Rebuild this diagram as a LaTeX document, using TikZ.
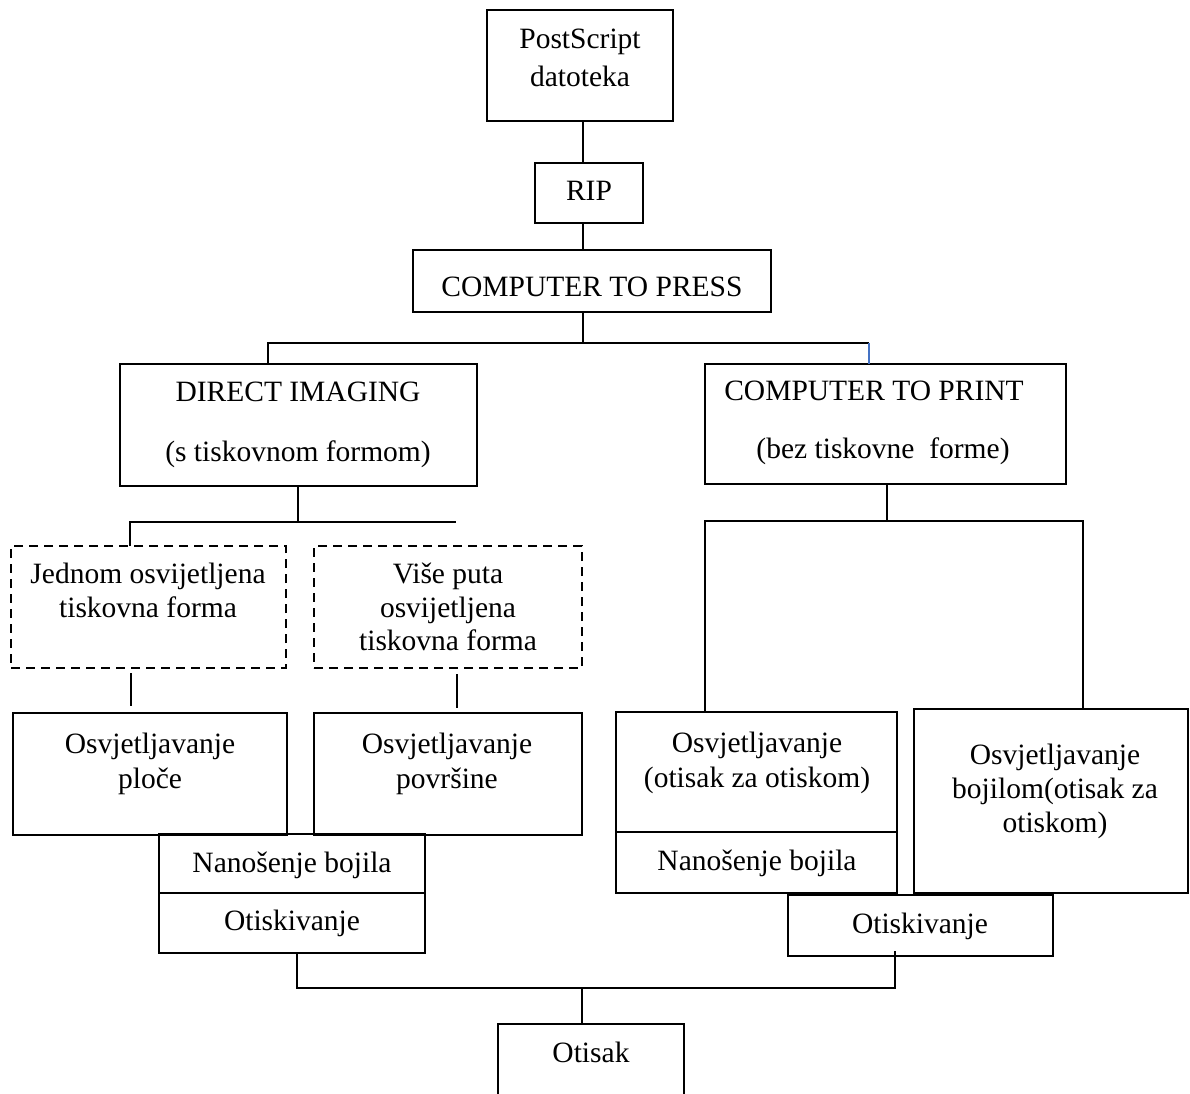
\documentclass[tikz,border=0pt]{standalone}
\usepackage{fontspec}
\setmainfont{Liberation Serif}
\definecolor{wordblue}{RGB}{68,114,196}
\newcommand\mybox[6]{%
  \pgfmathsetmacro\bxw{#5-#3}\pgfmathsetmacro\bxh{#6-#4}%
  \node[#1, minimum width=\bxw pt, minimum height=\bxh pt] (#2) at ({(#3+#5)/2},{(#4+#6)/2}) {};}
\begin{document}
\begin{tikzpicture}[x=1pt,y=-1pt, line width=2pt,
  box/.style={draw, rectangle, inner sep=0pt, outer sep=0pt, line width=2pt},
  dbox/.style={box, dash pattern=on 9pt off 6pt},
  txt/.style={anchor=base, inner sep=0pt, font=\fontsize{29.5}{34.5}\selectfont},
  wire/.style={draw, line width=2pt},
  bluewire/.style={draw=wordblue, line width=1.5pt}]
\useasboundingbox (0,0) rectangle (1190,1093);
\clip (0,0) rectangle (1190,1093);
% boxes
\mybox{box}{ps}{487}{10}{673}{121}
\mybox{box}{rip}{535}{163}{643}{223}
\mybox{box}{ctp}{413}{250}{771}{312}
\mybox{box}{di}{120}{364}{477}{486}
\mybox{box}{ctpr}{705}{364}{1066}{484}
\mybox{dbox}{d1}{11}{546}{286}{668}
\mybox{dbox}{d2}{314}{546}{582}{668}
\mybox{box}{op}{13}{713}{287}{835}
\mybox{box}{opv}{314}{713}{582}{835}
\mybox{box}{nb1}{159}{834}{425}{893}
\mybox{box}{ot1}{159}{893}{425}{953}
\mybox{box}{oo}{616}{712}{897}{832}
\mybox{box}{nb2}{616}{832}{897}{893}
\mybox{box}{ob}{914}{709}{1188}{893}
\mybox{box}{ot2}{788}{895}{1053}{956}
\mybox{box}{otk}{498}{1024}{684}{1110}
% texts
\node[txt] (tps1) at (580,48) {PostScript};
\node[txt] (tps2) at (580,86) {datoteka};
\node[txt] (trip) at (589,200) {RIP};
\node[txt] (tctp) at (592,296) {COMPUTER TO PRESS};
\node[txt] (tdi1) at (298,401) {DIRECT IMAGING};
\node[txt] (tdi2) at (298,461) {(s tiskovnom formom)};
\node[txt] (tcp1) at (874,400) {COMPUTER TO PRINT};
\node[txt] (tcp2) at (883,458) {(bez tiskovne\ \ forme)};
\node[txt] (td11) at (148,583) {Jednom osvijetljena};
\node[txt] (td12) at (148,617) {tiskovna forma};
\node[txt] (td21) at (448,583) {Više puta};
\node[txt] (td22) at (448,617) {osvijetljena};
\node[txt] (td23) at (448,650) {tiskovna forma};
\node[txt] (top1) at (150,753) {Osvjetljavanje};
\node[txt] (top2) at (150,788) {ploče};
\node[txt] (tov1) at (447,753) {Osvjetljavanje};
\node[txt] (tov2) at (447,788) {površine};
\node[txt] (tnb1) at (292,872) {Nanošenje bojila};
\node[txt] (tot1) at (292,930) {Otiskivanje};
\node[txt] (too1) at (757,752) {Osvjetljavanje};
\node[txt] (too2) at (757,787) {(otisak za otiskom)};
\node[txt] (tnb2) at (757,870) {Nanošenje bojila};
\node[txt] (tob1) at (1055,764) {Osvjetljavanje};
\node[txt] (tob2) at (1055,798) {bojilom(otisak za};
\node[txt] (tob3) at (1055,832) {otiskom)};
\node[txt] (tot2) at (920,933) {Otiskivanje};
\node[txt] (totk) at (591,1062) {Otisak};
% connectors
\coordinate (sp) at (583,0);
\coordinate (b1l) at (268,343);
\coordinate (b1r) at (869,343);
\draw[wire] (ps.south -| sp) -- (rip.north -| sp);
\draw[wire] (rip.south -| sp) -- (ctp.north -| sp);
\draw[wire] (ctp.south -| sp) -- (sp |- b1l);
\draw[wire] (di.north -| b1l) -- (b1l) -- (b1r);
\draw[bluewire] (b1r) -- (ctpr.north -| b1r);
\coordinate (b2m) at (298,522);
\coordinate (b2l) at (130,522);
\coordinate (b2r) at (456,522);
\draw[wire] (di.south -| b2m) -- (b2m);
\draw[wire] (d1.north -| b2l) -- (b2l) -- (b2r);
\coordinate (s1a) at (131,673);
\coordinate (s1b) at (131,706);
\coordinate (s2a) at (457,674);
\coordinate (s2b) at (457,708);
\draw[wire] (s1a) -- (s1b);
\draw[wire] (s2a) -- (s2b);
\coordinate (b3m) at (887,521);
\coordinate (b3l) at (705,521);
\coordinate (b3r) at (1083,521);
\draw[wire] (ctpr.south -| b3m) -- (b3m);
\draw[wire] (oo.north -| b3l) -- (b3l) -- (b3r) -- (ob.north -| b3r);
\coordinate (b4l) at (297,988);
\coordinate (b4r) at (895,988);
\coordinate (b4m) at (582,988);
\coordinate (ot2in) at (895,951);
\draw[wire] (ot1.south -| b4l) -- (b4l) -- (b4r) -- (ot2in);
\draw[wire] (b4m) -- (otk.north -| b4m);
\end{tikzpicture}
\end{document}
